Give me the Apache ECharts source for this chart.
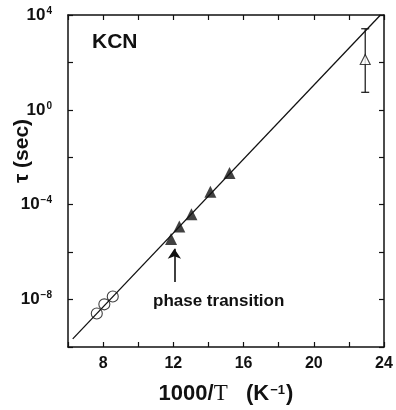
<!DOCTYPE html>
<html>
<head>
<meta charset="utf-8">
<script src="https://cdn.jsdelivr.net/npm/echarts@6/dist/echarts.min.js"></script>
<style>html,body{margin:0;padding:0;background:#fff}#c{width:396px;height:410px}</style>
</head>
<body>
<div id="c"></div>
<script>
// x: 1000/T (K^-1), y: tau (sec)
var xTicks = [8, 12, 16, 20, 24];
var yTickExponents = [-8, -4, 0, 4];
var circleX = [7.64, 8.07, 8.55];
var circleTau = [2.6e-9, 6.3e-9, 1.35e-8];
var filledX = [11.87, 12.34, 13.03, 14.11, 15.2];
var filledTau = [3.6e-6, 1.2e-5, 4.0e-5, 3.5e-4, 2.2e-3];
var openX = [22.93];
var openTau = [132];
var openTauLow = [5.5];
var openTauHigh = [2630];
var fitX = [6.27, 23.8];
var fitTau = [2.2e-10, 1e4];
var arrowX = [12.06, 12.06];
var arrowTau = [5.5e-8, 1.4e-6];

function zip(a, b) { return a.map(function (v, i) { return [v, b[i]]; }); }

var FONT = '"Liberation Sans", Arial, sans-serif';
var INK = '#111';

var chart = echarts.init(document.getElementById('c'));
var axisCommonX = {
  type: 'value', min: 6, max: 24, interval: 2,
  axisLine: { show: true, onZero: false, lineStyle: { color: INK, width: 1.5 } },
  axisTick: { show: true, inside: true, length: 5, lineStyle: { color: INK, width: 1.2 } },
  splitLine: { show: false }
};
var axisCommonY = {
  type: 'log', logBase: 10, min: 1e-10, max: 1e4, interval: 2,
  axisLine: { show: true, onZero: false, lineStyle: { color: INK, width: 1.5 } },
  axisTick: { show: true, inside: true, length: 5, lineStyle: { color: INK, width: 1.2 } },
  splitLine: { show: false }
};

chart.setOption({
  animation: false,
  backgroundColor: '#fff',
  grid: { left: 68, right: 12, top: 15, bottom: 47 },
  xAxis: [
    Object.assign({}, axisCommonX, {
      position: 'bottom',
      axisLabel: {
        show: true, margin: 9, color: INK, fontFamily: FONT, fontWeight: 'bold', fontSize: 16,
        formatter: function (v) { return xTicks.indexOf(v) >= 0 ? String(v) : ''; }
      },
      name: '{a|1000/}{t|T}{a|   (K}{s|−1}{a|)}',
      nameLocation: 'middle', nameGap: 35,
      nameTextStyle: {
        rich: {
          a: { fontFamily: FONT, fontWeight: 'bold', fontSize: 22, color: INK },
          t: { fontFamily: '"Liberation Serif", "Times New Roman", serif', fontSize: 23, color: INK },
          s: { fontFamily: FONT, fontWeight: 'bold', fontSize: 13, color: INK, padding: [0, 1, 6, 1] }
        }
      }
    }),
    Object.assign({}, axisCommonX, { position: 'top', axisLabel: { show: false } })
  ],
  yAxis: [
    Object.assign({}, axisCommonY, {
      position: 'left',
      axisLabel: {
        show: true, margin: 16, color: INK,
        formatter: function (v) {
          var e = Math.round(Math.log(v) / Math.LN10);
          if (yTickExponents.indexOf(e) < 0) return '';
          return '{b|10}{s|' + (e < 0 ? '−' + (-e) : e) + '}';
        },
        rich: {
          b: { fontFamily: FONT, fontWeight: 'bold', fontSize: 17, color: INK },
          s: { fontFamily: FONT, fontWeight: 'bold', fontSize: 10, color: INK, padding: [0, 0, 8, 1] }
        }
      }
    }),
    Object.assign({}, axisCommonY, { position: 'right', axisLabel: { show: false } })
  ],
  graphic: [
    { type: 'text', left: 92, top: 32, style: { text: 'KCN', font: 'bold 21px ' + FONT, fill: INK } },
    { type: 'text', left: 153, top: 293, style: { text: 'phase transition', font: 'bold 17px ' + FONT, fill: INK } },
    { type: 'text', x: 22, y: 151, rotation: Math.PI / 2,
      style: { text: 'τ (sec)', font: 'bold 21px ' + FONT, fill: INK, align: 'center', verticalAlign: 'middle' } }
  ],
  series: [
    {
      type: 'line', data: zip(fitX, fitTau), symbol: 'none',
      lineStyle: { color: INK, width: 1.3 }, z: 2
    },
    {
      type: 'scatter', data: zip(circleX, circleTau), symbol: 'circle', symbolSize: 11,
      itemStyle: { color: 'rgba(0,0,0,0)', borderColor: INK, borderWidth: 1.1 }, z: 3
    },
    {
      type: 'scatter', data: zip(filledX, filledTau), symbol: 'triangle', symbolSize: 12,
      itemStyle: { color: INK }, z: 3
    },
    {
      type: 'custom',
      data: openX.map(function (x, i) { return [x, openTauLow[i], openTauHigh[i]]; }),
      renderItem: function (params, api) {
        var lo = api.coord([api.value(0), api.value(1)]);
        var hi = api.coord([api.value(0), api.value(2)]);
        var w = 4;
        var st = { stroke: INK, lineWidth: 1.2 };
        return {
          type: 'group', children: [
            { type: 'line', shape: { x1: lo[0], y1: lo[1], x2: hi[0], y2: hi[1] }, style: st },
            { type: 'line', shape: { x1: lo[0] - w, y1: lo[1], x2: lo[0] + w, y2: lo[1] }, style: st },
            { type: 'line', shape: { x1: hi[0] - w, y1: hi[1], x2: hi[0] + w, y2: hi[1] }, style: st }
          ]
        };
      },
      z: 2
    },
    {
      type: 'scatter', data: zip(openX, openTau), symbol: 'triangle', symbolSize: 10,
      itemStyle: { color: '#fff', borderColor: INK, borderWidth: 1.1 }, z: 4
    },
    {
      type: 'line', data: zip(arrowX, arrowTau), symbol: 'none',
      lineStyle: { opacity: 0 },
      markLine: {
        silent: true, symbol: ['none', 'arrow'], symbolSize: 10,
        lineStyle: { color: INK, width: 1.6, type: 'solid' }, label: { show: false },
        data: [[{ coord: [arrowX[0], arrowTau[0]] }, { coord: [arrowX[1], arrowTau[1]] }]]
      }, z: 3
    }
  ]
});
</script>
</body>
</html>
